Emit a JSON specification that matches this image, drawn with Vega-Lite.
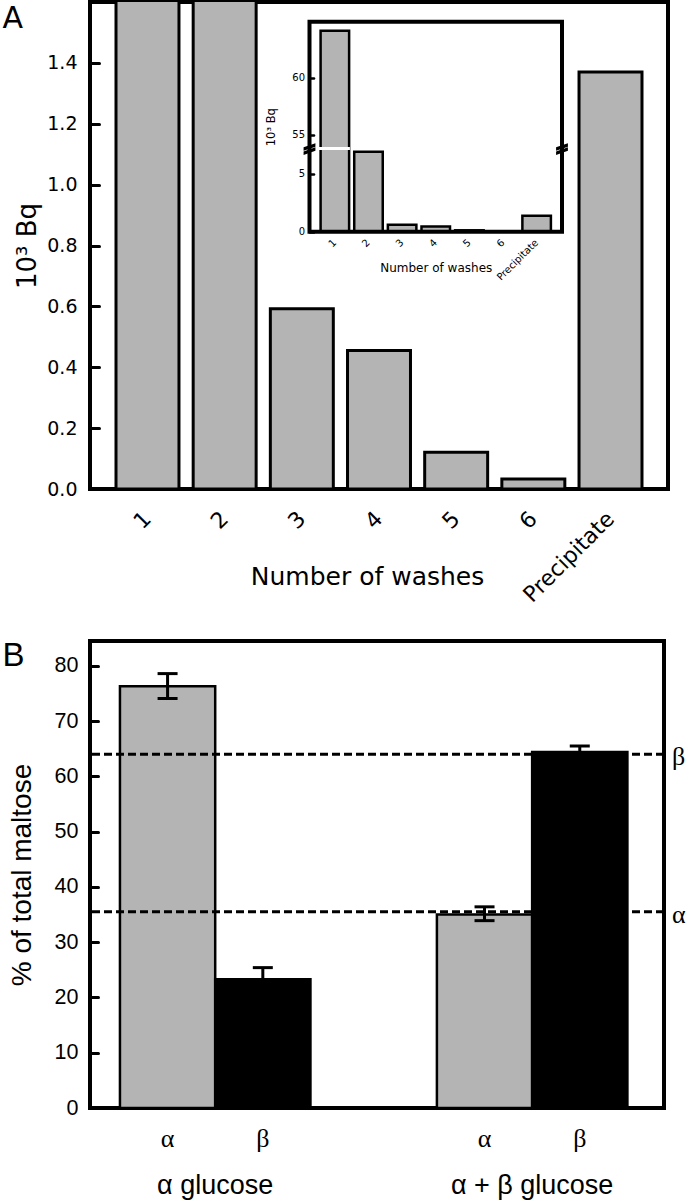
{
  "$schema": "https://vega.github.io/schema/vega-lite/v6.json",
  "background": "white",
  "padding": {"left": 0, "top": 0, "right": 0, "bottom": 0},
  "spacing": 29,
  "config": {
    "view": {"stroke": "black", "strokeWidth": 4},
    "axis": {"domain": false, "grid": false, "labelColor": "black", "titleColor": "black", "tickColor": "black", "labelOverlap": false},
    "title": {"fontWeight": "normal", "color": "black"}
  },
  "datasets": {
    "washes": [
      {"wash": "1", "kBq": 64.15},
      {"wash": "2", "kBq": 6.9},
      {"wash": "3", "kBq": 0.592},
      {"wash": "4", "kBq": 0.455},
      {"wash": "5", "kBq": 0.121},
      {"wash": "6", "kBq": 0.033},
      {"wash": "Precipitate", "kBq": 1.37}
    ],
    "maltose": [
      {"group": "α glucose", "anomer": "α", "pct": 76.3, "lo": 74.1, "hi": 78.6},
      {"group": "α glucose", "anomer": "β", "pct": 23.3, "lo": 21.2, "hi": 25.4},
      {"group": "α + β glucose", "anomer": "α", "pct": 35.0, "lo": 33.9, "hi": 36.4},
      {"group": "α + β glucose", "anomer": "β", "pct": 64.4, "lo": 63.3, "hi": 65.5}
    ],
    "refs": [
      {"anomer": "β", "level": 64.0},
      {"anomer": "α", "level": 35.5}
    ]
  },
  "vconcat": [
    {
      "width": 578,
      "height": 487,
      "resolve": {"scale": {"x": "independent", "y": "independent"}},
      "layer": [
        {
          "data": {"name": "washes"},
          "mark": {"type": "bar", "fill": "#b4b4b4", "stroke": "black", "strokeWidth": 3, "clip": true},
          "encoding": {
            "x": {"field": "wash", "type": "nominal", "sort": null,
              "scale": {"paddingInner": 0.184, "paddingOuter": 0.337},
              "axis": {"orient": "bottom", "title": "Number of washes", "labelAngle": -45, "labelAlign": "right", "labelBaseline": "middle", "labelPadding": 26, "ticks": false,
                "labelFont": "DejaVu Sans", "labelFontSize": 22, "titleFont": "DejaVu Sans", "titleFontSize": 25, "titleFontWeight": "normal", "titleY": 95, "titleX": 277, "titleBaseline": "alphabetic"}},
            "y": {"field": "kBq", "type": "quantitative",
              "scale": {"domain": [0, 1.6], "nice": false},
              "axis": {"orient": "left", "title": "10³ Bq", "values": [0, 0.2, 0.4, 0.6, 0.8, 1, 1.2, 1.4], "format": ".1f", "tickSize": -9, "tickWidth": 3, "tickCap": "round", "labelPadding": 22,
                "labelFont": "DejaVu Sans", "labelFontSize": 19, "titleFont": "DejaVu Sans", "titleFontSize": 26, "titleFontWeight": "normal", "titlePadding": 6}}
          }
        },
        {
          "resolve": {"scale": {"x": "independent"}},
          "layer": [
            {
              "data": {"name": "washes"},
              "mark": {"type": "bar", "fill": "#b4b4b4", "stroke": "black", "strokeWidth": 2.5},
              "encoding": {
                "x": {"field": "wash", "type": "nominal", "sort": null,
                  "scale": {"range": [219.5, 472], "paddingInner": 0.152, "paddingOuter": 0.33},
                  "axis": {"orient": "bottom", "offset": -257.3, "title": "Number of washes", "labelAngle": -45, "labelAlign": "right", "labelBaseline": "middle", "labelPadding": 9, "ticks": false,
                    "labelFont": "DejaVu Sans", "labelFontSize": 10, "titleFont": "DejaVu Sans", "titleFontSize": 12, "titleFontWeight": "normal", "titleY": 40, "titleBaseline": "alphabetic"}},
                "y": {"field": "kBq", "type": "quantitative",
                  "scale": {"domain": [0, 7.17, 53.8, 64.94], "range": [229.7, 146.5, 146.5, 19.7], "nice": false, "zero": false},
                  "axis": {"orient": "left", "offset": -219.5, "title": "10³ Bq", "values": [0, 5, 55, 60], "format": "d", "tickSize": -4, "tickWidth": 2.5, "tickCap": "round", "labelPadding": 9,
                    "labelFont": "DejaVu Sans", "labelFontSize": 10, "titleFont": "DejaVu Sans", "titleFontSize": 11.5, "titleFontWeight": "normal", "titlePadding": 15}}
              }
            },
            {
              "data": {"values": [{}]},
              "mark": {"type": "rect", "fill": "transparent", "stroke": "black", "strokeWidth": 4},
              "encoding": {
                "x": {"datum": 0, "type": "quantitative", "scale": {"domain": [0, 1], "range": [219.5, 472]},
                  "axis": {"orient": "top", "title": "A", "labels": false, "ticks": false, "domain": false, "titleAngle": 0, "titleX": -88, "titleY": 25, "titleAlign": "left", "titleBaseline": "alphabetic", "titleFont": "DejaVu Sans", "titleFontSize": 30, "titleFontWeight": "normal"}},
                "x2": {"datum": 1},
                "y": {"datum": 0, "type": "quantitative"},
                "y2": {"datum": 64.94}
              }
            },
            {
              "data": {"values": [{}]},
              "mark": {"type": "rule", "stroke": "white", "strokeWidth": 3},
              "encoding": {
                "x": {"datum": 0.012, "type": "quantitative", "scale": {"domain": [0, 1], "range": [219.5, 472]}, "axis": null},
                "x2": {"datum": 0.16},
                "y": {"datum": 7.17, "type": "quantitative"}
              }
            },
            {
              "data": {"values": [{}]},
              "mark": {"type": "point", "shape": "M-1,-0.2L1,-0.9L1,-0.3L-1,0.4Z M-1,0.5L1,-0.2L1,0.4L-1,1.1Z", "filled": true, "color": "black", "opacity": 1, "size": 140},
              "encoding": {
                "x": {"datum": 0, "type": "quantitative", "scale": {"domain": [0, 1], "range": [219.5, 472]}, "axis": null},
                "y": {"datum": 7.17, "type": "quantitative"}
              }
            },
            {
              "data": {"values": [{}]},
              "mark": {"type": "point", "shape": "M-1,-0.2L1,-0.9L1,-0.3L-1,0.4Z M-1,0.5L1,-0.2L1,0.4L-1,1.1Z", "filled": true, "color": "black", "opacity": 1, "size": 140},
              "encoding": {
                "x": {"datum": 1, "type": "quantitative", "scale": {"domain": [0, 1], "range": [219.5, 472]}, "axis": null},
                "y": {"datum": 7.17, "type": "quantitative"}
              }
            }
          ]
        }
      ]
    },
    {
      "width": 574,
      "height": 467,
      "resolve": {"scale": {"x": "independent"}},
      "layer": [
        {
          "layer": [
            {
              "data": {"name": "maltose"},
              "mark": {"type": "bar", "stroke": "black", "strokeWidth": 2.5},
              "encoding": {
                "x": {"field": "group", "type": "nominal", "sort": null,
                  "scale": {"paddingInner": 0.399, "paddingOuter": 0.105, "align": 0.45},
                  "axis": {"orient": "bottom", "title": null, "ticks": false, "labelAngle": 0, "labelPadding": 85, "labelBaseline": "alphabetic", "labelFont": "Liberation Sans", "labelFontSize": 27}},
                "xOffset": {"field": "anomer", "type": "nominal", "sort": null, "scale": {"paddingInner": 0, "paddingOuter": 0}},
                "y": {"field": "pct", "type": "quantitative",
                  "scale": {"domain": [0, 84.5], "nice": false},
                  "axis": {"orient": "left", "title": "% of total maltose", "values": [0, 10, 20, 30, 40, 50, 60, 70, 80], "tickSize": -8, "tickWidth": 3, "tickCap": "round", "labelPadding": 20,
                    "labelFont": "Liberation Sans", "labelFontSize": 21.5, "titleFont": "Liberation Sans", "titleFontSize": 28, "titleFontWeight": "normal", "titlePadding": 18}},
                "fill": {"field": "anomer", "type": "nominal", "scale": {"domain": ["α", "β"], "range": ["#b4b4b4", "black"]}, "legend": null}
              }
            },
            {
              "data": {"name": "maltose"},
              "mark": {"type": "rule", "strokeWidth": 3, "color": "black"},
              "encoding": {
                "x": {"field": "group", "type": "nominal", "sort": null},
                "xOffset": {"field": "anomer", "type": "nominal", "sort": null},
                "y": {"field": "lo", "type": "quantitative"},
                "y2": {"field": "hi"}
              }
            },
            {
              "data": {"name": "maltose"},
              "mark": {"type": "tick", "thickness": 3, "size": 20, "color": "black", "opacity": 1},
              "encoding": {
                "x": {"field": "group", "type": "nominal", "sort": null},
                "xOffset": {"field": "anomer", "type": "nominal", "sort": null},
                "y": {"field": "hi", "type": "quantitative"}
              }
            },
            {
              "data": {"name": "maltose"},
              "mark": {"type": "tick", "thickness": 3, "size": 20, "color": "black", "opacity": 1},
              "encoding": {
                "x": {"field": "group", "type": "nominal", "sort": null},
                "xOffset": {"field": "anomer", "type": "nominal", "sort": null},
                "y": {"field": "lo", "type": "quantitative"}
              }
            },
            {
              "data": {"name": "maltose"},
              "mark": {"type": "text", "align": "center", "baseline": "alphabetic", "dy": 39, "font": "Liberation Serif", "fontSize": 26, "color": "black"},
              "encoding": {
                "x": {"field": "group", "type": "nominal", "sort": null},
                "xOffset": {"field": "anomer", "type": "nominal", "sort": null},
                "y": {"datum": 0, "type": "quantitative"},
                "text": {"field": "anomer"}
              }
            }
          ]
        },
        {
          "data": {"name": "refs"},
          "mark": {"type": "rule", "strokeWidth": 3, "strokeDash": [8, 4], "color": "black"},
          "encoding": {
            "y": {"field": "level", "type": "quantitative"}
          }
        },
        {
          "data": {"name": "refs"},
          "mark": {"type": "text", "align": "left", "baseline": "middle", "dx": 8, "dy": 3, "font": "Liberation Serif", "fontSize": 26, "color": "black"},
          "encoding": {
            "x": {"datum": 1, "type": "quantitative", "scale": {"domain": [0, 1]},
              "axis": {"orient": "top", "title": "B", "labels": false, "ticks": false, "domain": false, "titleAngle": 0, "titleX": -88, "titleY": 24, "titleAlign": "left", "titleBaseline": "alphabetic", "titleFont": "Liberation Sans", "titleFontSize": 33, "titleFontWeight": "normal"}},
            "y": {"field": "level", "type": "quantitative"},
            "text": {"field": "anomer"}
          }
        }
      ]
    }
  ]
}
